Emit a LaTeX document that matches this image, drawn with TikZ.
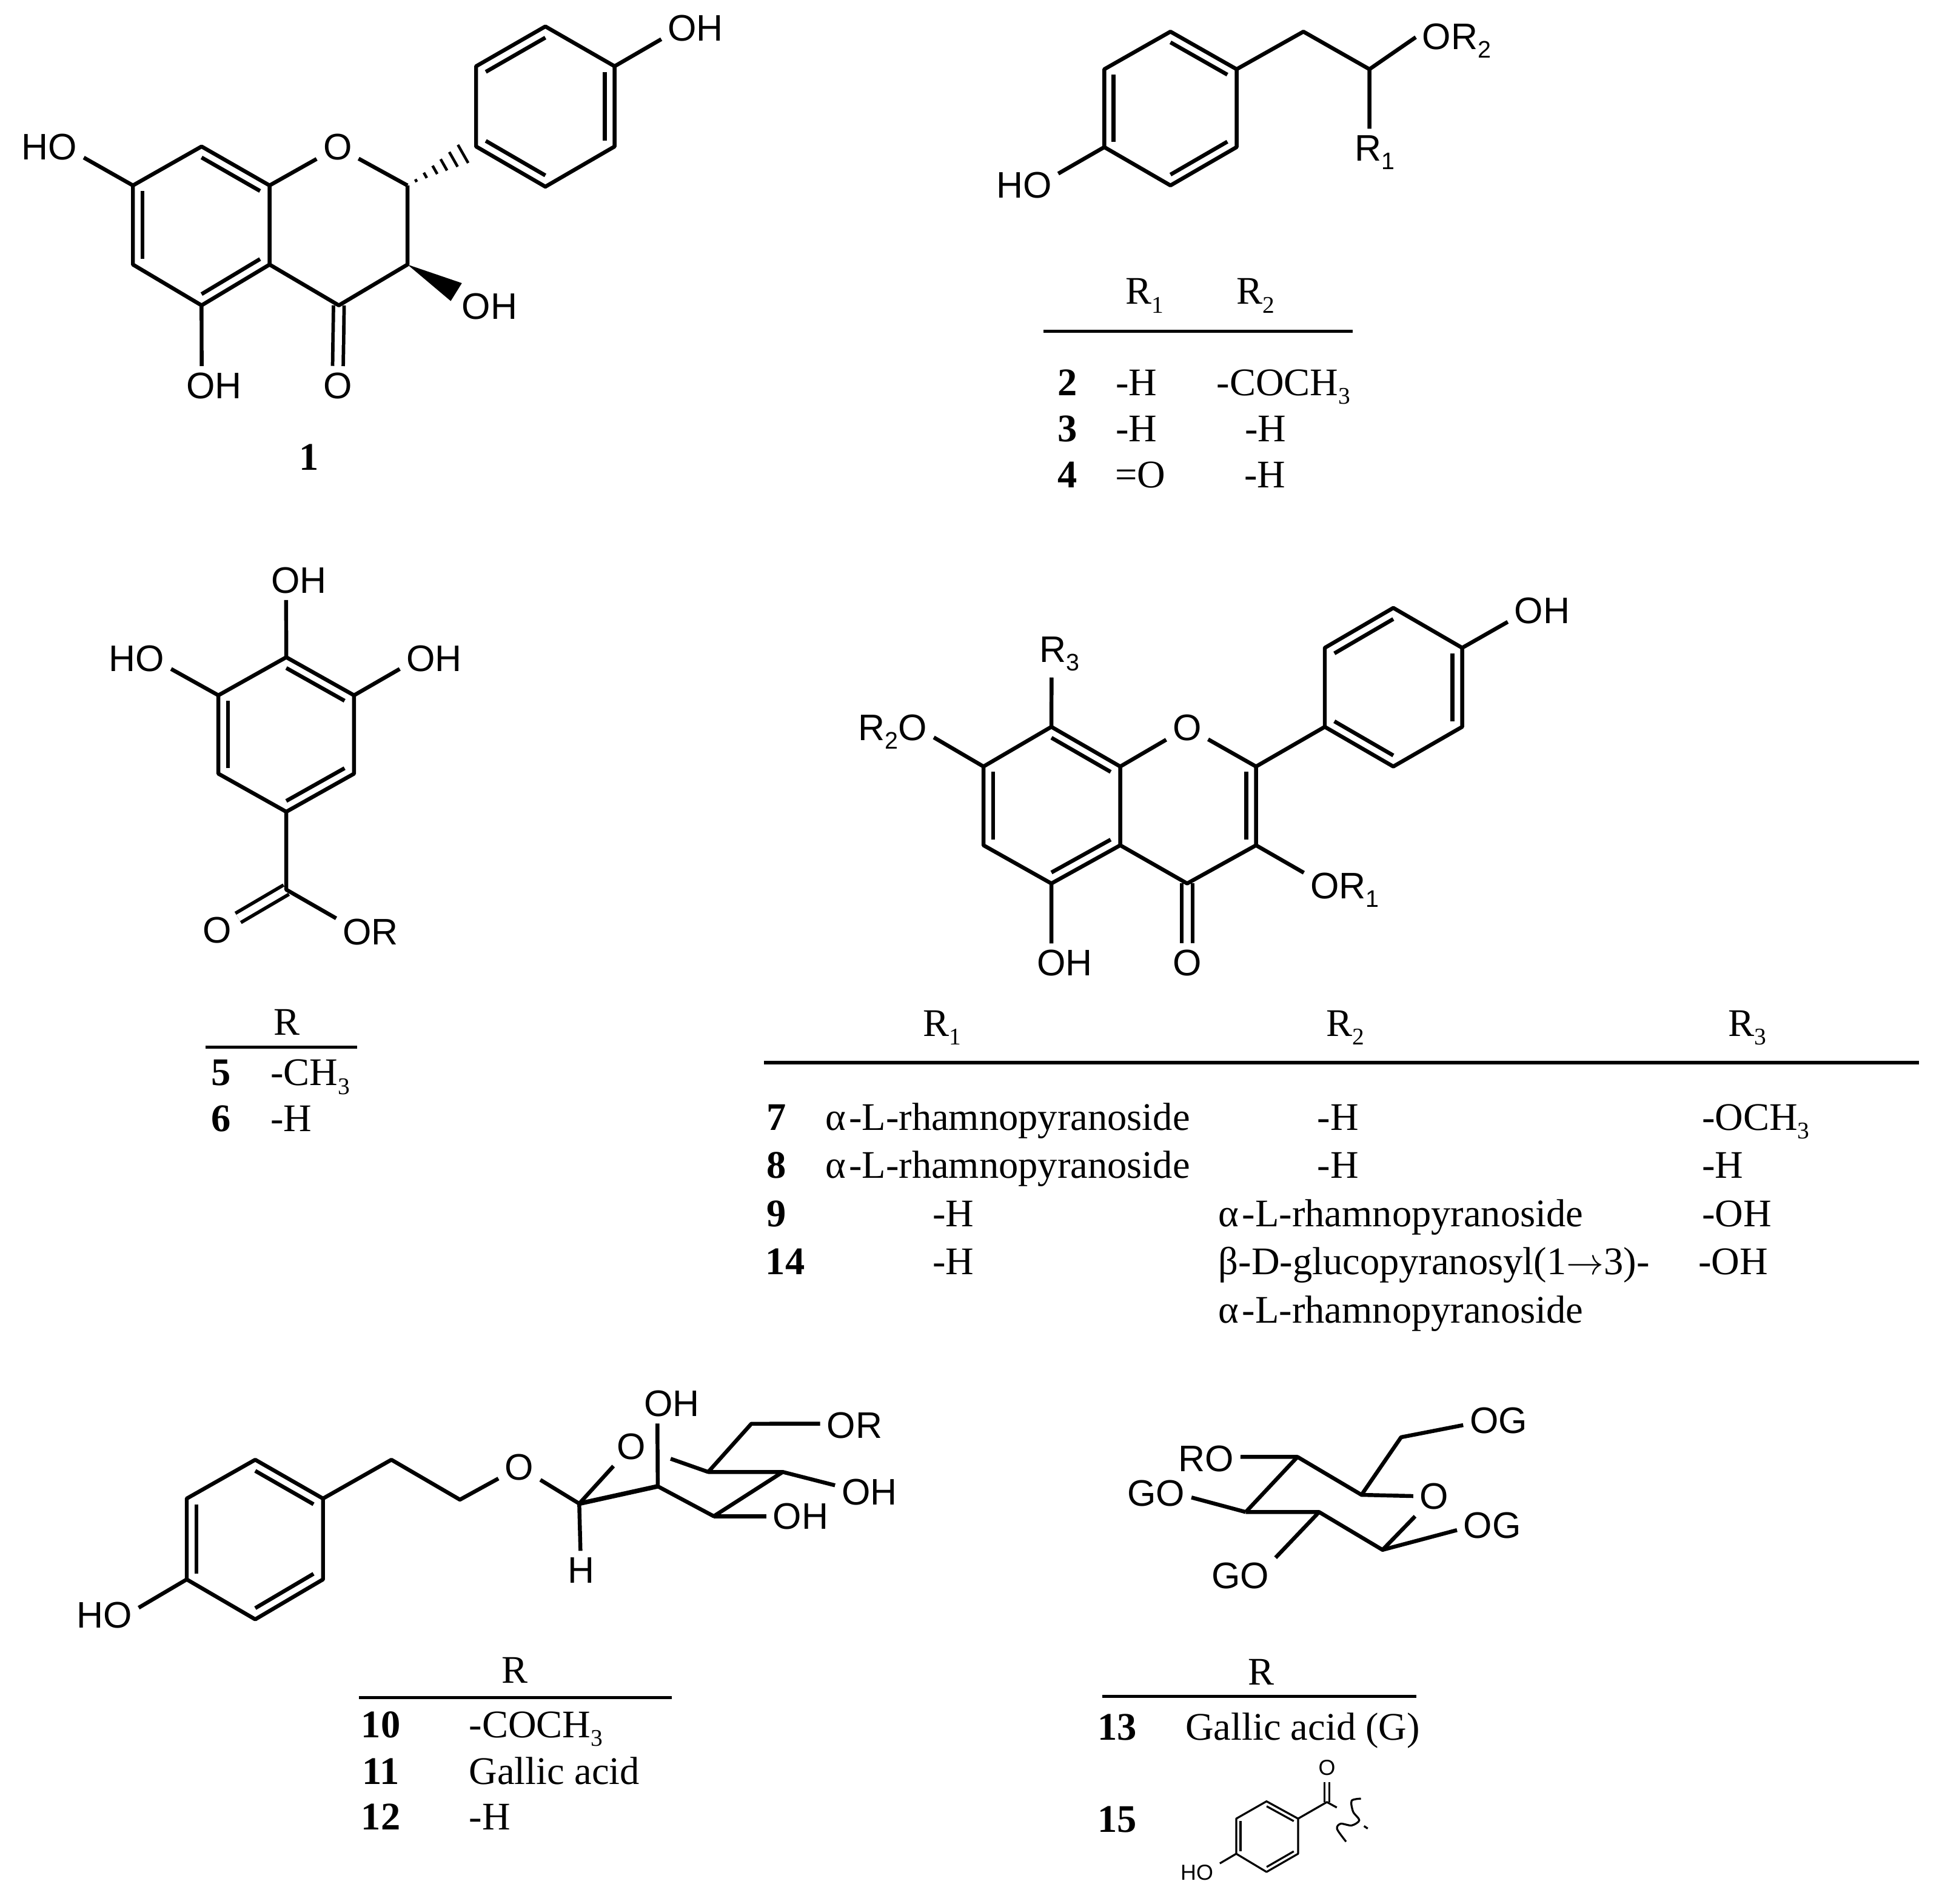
\documentclass[tikz,border=0pt]{standalone}
\usepackage{fontspec}
\setmainfont{Liberation Serif}
\setsansfont{Liberation Sans}
\usetikzlibrary{calc}
\newcommand{\sbs}[1]{\raisebox{-4pt}{\fontsize{11}{11}\selectfont #1}}
\newcommand{\rham}{α\kern1.5pt-L-rhamnopyranoside}
\newcommand{\inbond}[3]{\draw[bond] ($(#1)!.14!(#3)$) -- ($(#2)!.14!(#3)$);}
\tikzset{
  bond/.style={line width=1.8pt,line join=round},
  dblbond/.style={line width=1.6pt,double,double distance=3.3pt},
  rule/.style={line width=1.4pt},
  atom/.style={font=\sffamily\fontsize{17}{17}\selectfont,inner sep=.1cm},
  smallatom/.style={font=\sffamily\fontsize{10}{10}\selectfont,inner sep=.1cm},
  cell/.style={font=\fontsize{18}{18}\selectfont,inner sep=0pt,anchor=base},
  cellw/.style={cell,anchor=base west},
  num/.style={cell,font=\bfseries\fontsize{18}{18}\selectfont}
}
\begin{document}
\begin{tikzpicture}[x=0.02cm,y=-0.02cm]
  \useasboundingbox (0,0) rectangle (1568,1540);
  % compound 1
  \coordinate (a1) at (107.5,150);  \coordinate (a2) at (163,118.5);  \coordinate (a3) at (218,150);
  \coordinate (a4) at (218,214);    \coordinate (a5) at (163,247);    \coordinate (a6) at (107.5,214);
  \coordinate (a7) at (329.5,150);  \coordinate (a8) at (329.5,214);  \coordinate (a9) at (274,247);
  \coordinate (ca) at (163,182);
  \coordinate (b1) at (385,118.5);  \coordinate (b2) at (385,53.6);   \coordinate (b3) at (441,21.4);
  \coordinate (b4) at (497,53.6);   \coordinate (b5) at (497,118.5);  \coordinate (b6) at (441,151);
  \coordinate (cb) at (441,86);
  \coordinate (w1) at (373.5,229);  \coordinate (w2) at (364.5,243.5);
  \node[atom] (HOa) at (40,119) {HO};
  \node[atom] (Oa)  at (273,119) {O};
  \node[atom] (OHa) at (562.5,22.7) {OH};
  \node[atom] (OHb) at (396,248) {OH};
  \node[atom] (OHc) at (173,312) {OH};
  \node[atom] (Ob)  at (273,312) {O};
  \node[num]  (n1)  at (250,380) {1};
  \draw[dblbond] (a9) -- (Ob);
  \draw[bond] (a1) -- (a2) -- (a3) -- (a4) -- (a5) -- (a6) -- cycle;
  \draw[bond] (a4) -- (a9) -- (a8) -- (a7);
  \draw[bond] (b1) -- (b2) -- (b3) -- (b4) -- (b5) -- (b6) -- cycle;
  \draw[bond] (a3) -- (Oa) -- (a7);
  \draw[bond] (a1) -- (HOa.-17);
  \draw[bond] (a5) -- (OHc.122);
  \draw[bond] (b4) -- (OHa.198);
  \inbond{a1}{a6}{ca} \inbond{a2}{a3}{ca} \inbond{a4}{a5}{ca}
  \inbond{b2}{b3}{cb} \inbond{b4}{b5}{cb} \inbond{b1}{b6}{cb}
  \fill (a8) -- (w1) -- (w2) -- cycle;
  \foreach \t/\w in {.125/.7,.26/1.4,.40/2.2,.53/3,.67/3.9,.81/4.8}
    \draw[line width=1.25pt] ($(a7)!\t!(b1)!\w pt!90:(b1)$) -- ($(a7)!\t!(b1)!\w pt!-90:(b1)$);
  % compounds 2-4
  \coordinate (c1) at (893,56);     \coordinate (c2) at (946.5,25.6); \coordinate (c3) at (1000,56);
  \coordinate (c4) at (1000,119);   \coordinate (c5) at (946.5,150);  \coordinate (c6) at (893,119);
  \coordinate (c7) at (1054,25.6);  \coordinate (c8) at (1107.4,56);  \coordinate (cc) at (946.5,87.5);
  \node[atom] (HOc) at (828,150) {HO};
  \node[atom] (Rc)  at (1111.5,123.3) {R\sbs{1}};
  \node[atom] (ORc) at (1178,33) {OR\sbs{2}};
  \draw[bond] (c1) -- (c2) -- (c3) -- (c4) -- (c5) -- (c6) -- cycle;
  \draw[bond] (c3) -- (c7) -- (c8) -- (ORc.175);
  \draw[bond] (c8) -- (Rc.102);
  \draw[bond] (c6) -- (HOc.19);
  \inbond{c1}{c6}{cc} \inbond{c2}{c3}{cc} \inbond{c4}{c5}{cc}
  \node[cell] (Rha) at (925.7,246) {R\sbs{1}};
  \node[cell] (Rhb) at (1015.5,246) {R\sbs{2}};
  \coordinate (tbl) at (844,268);   \coordinate (tbr) at (1094,268);
  \draw[rule] (tbl) -- (tbr);
  \node[num]  (n2)  at (863,320) {2};
  \node[cell] (r2a) at (919,320) {-H};
  \node[cell] (r2b) at (1038,320) {-COCH\sbs{3}};
  \node[num]  (n3)  at (863,357.4) {3};
  \node[cell] (r3a) at (919,357.4) {-H};
  \node[cell] (r3b) at (1023.5,357.4) {-H};
  \node[num]  (n4)  at (863,394.5) {4};
  \node[cell] (r4a) at (922,394.5) {=O};
  \node[cell] (r4b) at (1023,394.5) {-H};
  % compounds 5-6
  \coordinate (d1) at (231.5,531.6);  \coordinate (d2) at (286.3,562.4);  \coordinate (d3) at (286.3,625.8);
  \coordinate (d4) at (231.5,656.6);  \coordinate (d5) at (176.6,625.8);  \coordinate (d6) at (176.6,562.4);
  \coordinate (d7) at (231.5,719.6);  \coordinate (cd) at (231.5,594);
  \node[atom] (OHd) at (241.7,469.4) {OH};
  \node[atom] (HOd) at (110.6,532.6) {HO};
  \node[atom] (OHe) at (351,532.6) {OH};
  \node[atom] (Od)  at (175.6,752.4) {O};
  \node[atom] (ORd) at (299.6,754) {OR};
  \draw[dblbond] (d7) -- (Od);
  \draw[bond] (d1) -- (d2) -- (d3) -- (d4) -- (d5) -- (d6) -- cycle;
  \draw[bond] (d4) -- (d7) -- (ORd.158);
  \draw[bond] (d1) -- (OHd.237);
  \draw[bond] (d6) -- (HOd.-17);
  \draw[bond] (d2) -- (OHe.197);
  \inbond{d1}{d2}{cd} \inbond{d3}{d4}{cd} \inbond{d5}{d6}{cd}
  \node[cell] (Rd) at (232,837) {R};
  \coordinate (tdl) at (166,847);   \coordinate (tdr) at (289,847);
  \draw[rule] (tdl) -- (tdr);
  \node[num]  (n5)  at (179,878) {5};
  \node[cellw] (r5) at (218.4,878) {-CH\sbs{3}};
  \node[num]  (n6)  at (179,915) {6};
  \node[cellw] (r6) at (218.4,915) {-H};
  % compounds 7-9, 14
  \coordinate (e1) at (850.2,587.9);  \coordinate (e2) at (905.9,620);    \coordinate (e3) at (905.9,683.7);
  \coordinate (e4) at (850.2,714.6);  \coordinate (e5) at (795.3,683.7);  \coordinate (e6) at (795.3,620);
  \coordinate (e7) at (1015.7,620);   \coordinate (e8) at (1015.7,683.7); \coordinate (e9) at (960,714.6);
  \coordinate (ce) at (850.5,651);    \coordinate (cg) at (960,651);
  \coordinate (f1) at (1071.3,587.9); \coordinate (f2) at (1071.3,524);   \coordinate (f3) at (1126.7,491.7);
  \coordinate (f4) at (1182.4,524);   \coordinate (f5) at (1182.4,587.9); \coordinate (f6) at (1126.7,620);
  \coordinate (cf) at (1126.7,556);
  \node[atom] (Oe)  at (960,588.4) {O};
  \node[atom] (OHf) at (861,779) {OH};
  \node[atom] (Of)  at (960,779) {O};
  \node[atom] (ORe) at (1087.5,720) {OR\sbs{1}};
  \node[atom] (Re)  at (857,528.8) {R\sbs{3}};
  \node[atom] (ROe) at (722,591.8) {R\sbs{2}O};
  \node[atom] (OHg) at (1247,494) {OH};
  \draw[dblbond] (e9) -- (Of);
  \draw[bond] (e1) -- (e2) -- (e3) -- (e4) -- (e5) -- (e6) -- cycle;
  \draw[bond] (e3) -- (e9) -- (e8) -- (e7);
  \draw[bond] (f1) -- (f2) -- (f3) -- (f4) -- (f5) -- (f6) -- cycle;
  \draw[bond] (e2) -- (Oe) -- (e7) -- (f1);
  \draw[bond] (e1) -- (Re.251);
  \draw[bond] (e6) -- (ROe.-8);
  \draw[bond] (e4) -- (OHf.124);
  \draw[bond] (e8) -- (ORe.157);
  \draw[bond] (f4) -- (OHg.198);
  \inbond{e1}{e2}{ce} \inbond{e3}{e4}{ce} \inbond{e5}{e6}{ce} \inbond{e7}{e8}{cg}
  \inbond{f2}{f3}{cf} \inbond{f4}{f5}{cf} \inbond{f1}{f6}{cf}
  \node[cell] (Rea) at (762,838) {R\sbs{1}};
  \node[cell] (Reb) at (1088,838) {R\sbs{2}};
  \node[cell] (Rec) at (1413,838) {R\sbs{3}};
  \coordinate (tel) at (618,859.5); \coordinate (ter) at (1552,859.5);
  \draw[rule] (tel) -- (ter);
  \node[num]   (n7)  at (628,914) {7};
  \node[cellw] (r7a) at (667,914) {\rham};
  \node[cell]  (r7b) at (1082,914) {-H};
  \node[cellw] (r7c) at (1376,914) {-OCH\sbs{3}};
  \node[num]   (n8)  at (628,953) {8};
  \node[cellw] (r8a) at (667,953) {\rham};
  \node[cell]  (r8b) at (1082,953) {-H};
  \node[cellw] (r8c) at (1376,953) {-H};
  \node[num]   (n9)  at (628,992) {9};
  \node[cell]  (r9a) at (771,992) {-H};
  \node[cellw] (r9b) at (985,992) {\rham};
  \node[cellw] (r9c) at (1376,992) {-OH};
  \node[num]   (n14) at (635,1031) {14};
  \node[cell]  (r14a) at (771,1031) {-H};
  \node[cellw] (r14b) at (985,1031) {β-D-glucopyranosyl(1$\rightarrow$3)-};
  \node[cellw] (r14c) at (1373,1031) {-OH};
  \node[cellw] (r14d) at (985,1070) {\rham};
  % compounds 10-12
  \coordinate (g1) at (151,1212.1);   \coordinate (g2) at (206.4,1180.7); \coordinate (g3) at (261.2,1212.1);
  \coordinate (g4) at (261.2,1277.5); \coordinate (g5) at (206.4,1309.8); \coordinate (g6) at (151,1277.5);
  \coordinate (cm) at (206.4,1245);
  \coordinate (g7) at (316.5,1180.7); \coordinate (g8) at (371.9,1213);   \coordinate (g9) at (468.4,1216.2);
  \coordinate (g10) at (531.9,1202.2); \coordinate (g11) at (577.2,1226.4); \coordinate (g12) at (633,1190.6);
  \coordinate (g13) at (572.7,1190.6); \coordinate (g14) at (607.6,1151.6); \coordinate (g15) at (542.3,1179.9);
  \node[atom] (HOm) at (84.4,1306.3) {HO};
  \node[atom] (Om)  at (420,1186.6) {O};
  \node[atom] (On)  at (510.6,1169.9) {O};
  \node[atom] (Hm)  at (469.8,1270) {H};
  \node[atom] (OHm) at (543.2,1135.5) {OH};
  \node[atom] (ORm) at (691,1153) {OR};
  \node[atom] (OHn) at (703,1206.8) {OH};
  \node[atom] (OHp) at (647.5,1226.4) {OH};
  \draw[bond] (g1) -- (g2) -- (g3) -- (g4) -- (g5) -- (g6) -- cycle;
  \draw[bond] (g3) -- (g7) -- (g8) -- (Om) -- (g9);
  \draw[bond] (g6) -- (HOm.12);
  \draw[bond] (g9) -- (Hm);
  \draw[bond] (g9) -- (On);
  \draw[bond,line width=2.1pt] (g9) -- (g10);
  \draw[bond] (g10) -- (g11) -- (g12) -- (g13) -- (g14) -- (ORm.177);
  \draw[bond] (g13) -- (g15);
  \draw[bond] (g10) -- (OHm.234);
  \draw[bond] (g12) -- (OHn.169);
  \draw[bond] (g11) -- (OHp.180);
  \inbond{g1}{g6}{cm} \inbond{g2}{g3}{cm} \inbond{g4}{g5}{cm}
  \node[cell] (Rm) at (416.3,1361.5) {R};
  \coordinate (tml) at (290.2,1373); \coordinate (tmr) at (543.2,1373);
  \draw[rule] (tml) -- (tmr);
  \node[num]   (n10) at (308,1405.5) {10};
  \node[cellw] (r10) at (379,1405.5) {-COCH\sbs{3}};
  \node[num]   (n11) at (308,1443) {11};
  \node[cellw] (r11) at (379,1443) {Gallic acid};
  \node[num]   (n12) at (308,1480) {12};
  \node[cellw] (r12) at (379,1480) {-H};
  % compounds 13, 15
  \coordinate (h1) at (1049.2,1178.4); \coordinate (h2) at (1101,1209.1);  \coordinate (h3) at (1133,1162.5);
  \coordinate (h4) at (1118,1253.6);   \coordinate (h5) at (1066.7,1223);  \coordinate (h6) at (1007.4,1223);
  \node[atom] (OGa) at (1211.8,1149.2) {OG};
  \node[atom] (Oh)  at (1159.8,1210.5) {O};
  \node[atom] (OGb) at (1206.8,1234.1) {OG};
  \node[atom] (ROa) at (975.4,1179.8) {RO};
  \node[atom] (GOa) at (934.9,1207.7) {GO};
  \node[atom] (GOb) at (1002.9,1274.5) {GO};
  \draw[bond] (h6) -- (h1) -- (h2) -- (Oh) -- (h4) -- (h5) -- (h6);
  \draw[bond] (h2) -- (h3) -- (OGa.187);
  \draw[bond] (h4) -- (OGb.187);
  \draw[bond] (h1) -- (ROa.3);
  \draw[bond] (h6) -- (GOa.-7);
  \draw[bond] (h5) -- (GOb.27);
  \node[cell] (Rh) at (1019.7,1363) {R};
  \coordinate (thl) at (891.6,1372); \coordinate (thr) at (1145.5,1372);
  \draw[rule] (thl) -- (thr);
  \node[num]  (n13) at (903.3,1407.4) {13};
  \node[cell] (r13) at (1053.4,1407.4) {Gallic acid (G)};
  \node[num]  (n15) at (903.3,1481.7) {15};
  \begin{scope}[bond/.style={line width=.9pt,line join=round},dblbond/.style={line width=.8pt,double,double distance=1.6pt}]
    \coordinate (k1) at (999.7,1471);    \coordinate (k2) at (1024.2,1457);   \coordinate (k3) at (1049.7,1471);
    \coordinate (k4) at (1049.7,1499.4); \coordinate (k5) at (1024.2,1514.1); \coordinate (k6) at (999.7,1499.4);
    \coordinate (k7) at (1073,1457.6);   \coordinate (k8) at (1081,1462);     \coordinate (ck) at (1024.7,1485.5);
    \coordinate (k9) at (1103,1477);     \coordinate (k10) at (1106,1479);
    \node[smallatom] (Ok)  at (1073,1429.8) {O};
    \node[smallatom] (HOk) at (967.9,1514.7) {HO};
    \draw[dblbond] (k7) -- (Ok);
    \draw[bond] (k1) -- (k2) -- (k3) -- (k4) -- (k5) -- (k6) -- cycle;
    \draw[bond] (k3) -- (k7) -- (k8);
    \draw[bond] (k6) -- (HOk.22);
    \inbond{k1}{k6}{ck} \inbond{k2}{k3}{ck} \inbond{k4}{k5}{ck}
    \draw[bond] plot[smooth] coordinates {(1100.5,1454.8) (1093,1456.5) (1094.2,1465.4) (1099.2,1472.3) (1093,1476.5) (1084.2,1475.1) (1081.2,1479.3) (1088.5,1489.6)};
    \draw[bond] (k9) -- (k10);
  \end{scope}
\end{tikzpicture}
\end{document}
